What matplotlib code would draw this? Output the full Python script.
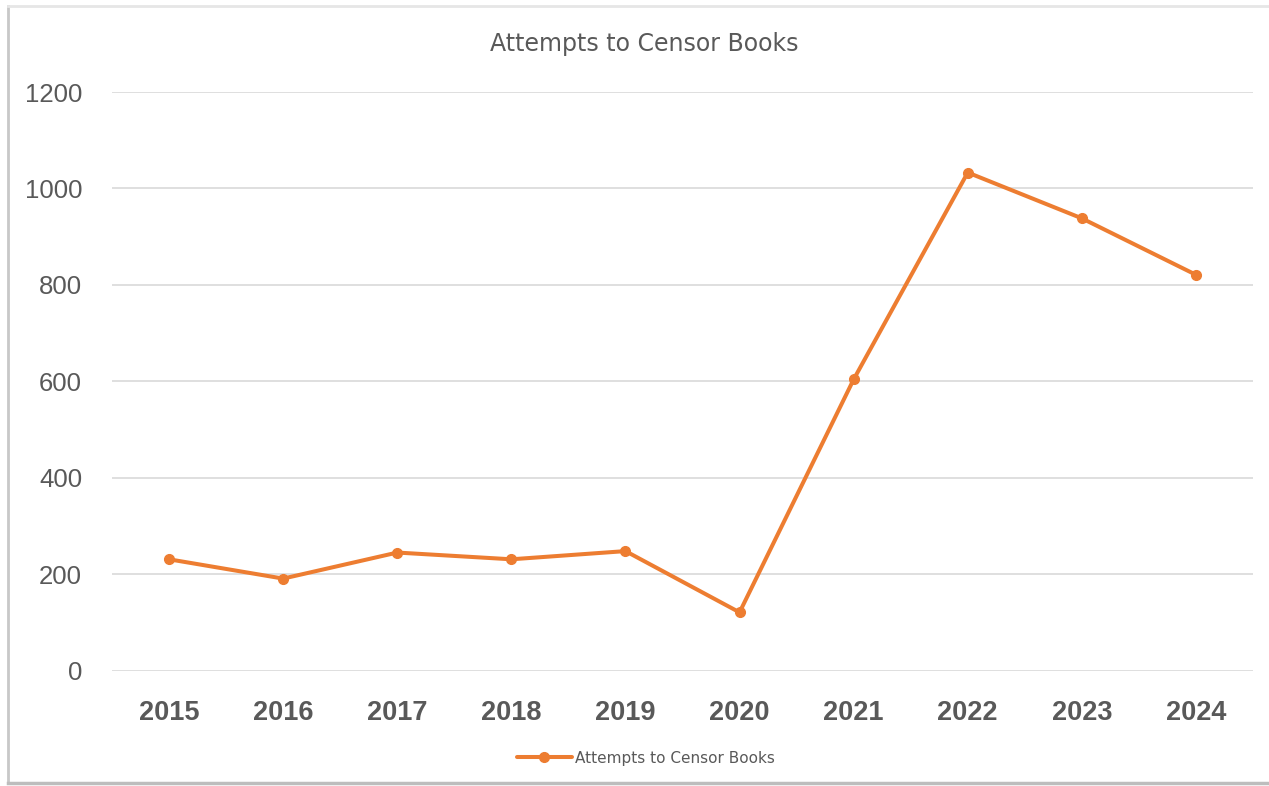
import matplotlib
matplotlib.use("Agg")
import matplotlib.pyplot as plt
from matplotlib.lines import Line2D

# data
years = ["2015", "2016", "2017", "2018", "2019", "2020", "2021", "2022", "2023", "2024"]
attempts = [231, 191, 245, 231, 248, 121, 604, 1033, 938, 821]
y_ticks = [0, 200, 400, 600, 800, 1000, 1200]
series_name = "Attempts to Censor Books"
chart_title = "Attempts to Censor Books"

orange = "#ED7D31"
grey_text = "#595959"

fig = plt.figure(figsize=(12.69, 7.86), dpi=100)
fig.patch.set_facecolor("white")

# chart frame with a soft shadow
fig.add_artist(Line2D([8/1269, 8/1269], [1-783/786, 1-6/786], transform=fig.transFigure,
                      color="#c8c8c8", lw=2.0))
fig.add_artist(Line2D([8/1269, 1.0], [1-6/786, 1-6/786], transform=fig.transFigure,
                      color="#e6e6e6", lw=2.0))
fig.add_artist(Line2D([8/1269, 1.0], [1-783/786, 1-783/786], transform=fig.transFigure,
                      color="#bdbdbd", lw=2.5))

ax = fig.add_axes([112/1269, 1-670.7/786, (1253-112)/1269, (670.7-92)/786])
x = list(range(len(years)))
ax.plot(x, attempts, color=orange, lw=2.9, marker="o", ms=7, solid_capstyle="round",
        label=series_name, zorder=3)

ax.set_xlim(-0.5, len(years) - 0.5)
ax.set_ylim(0, 1200)
ax.set_yticks(y_ticks)
ax.set_yticklabels([str(v) for v in y_ticks], fontsize=18.5, color=grey_text,
                   family="Liberation Sans")
ax.set_xticks(x)
ax.set_xticklabels(years, fontsize=19.5, fontweight="bold", color=grey_text,
                   family="Liberation Sans")
ax.tick_params(axis="both", length=0)
ax.tick_params(axis="y", pad=21.5)
ax.tick_params(axis="x", pad=21)
ax.grid(axis="y", color="#d9d9d9", lw=1.2)
ax.set_axisbelow(True)
for s in ax.spines.values():
    s.set_visible(False)

fig.text(644/1269, 1-44/786, chart_title, ha="center", va="center", fontsize=17,
         color=grey_text)

leg = fig.legend(loc="center", bbox_to_anchor=(646/1269, 1-758/786), frameon=False,
                 prop={"size": 11}, handlelength=3.6, handletextpad=0.25,
                 labelcolor=grey_text)

fig.savefig("out.png", dpi=100)
